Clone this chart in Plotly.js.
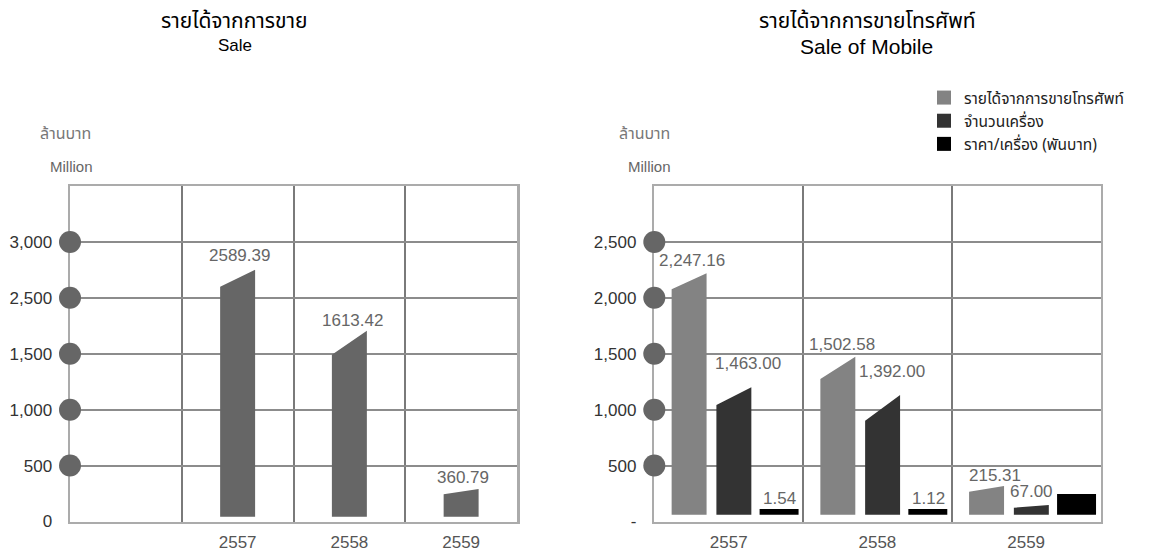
<!DOCTYPE html>
<html><head><meta charset="utf-8">
<script src="https://cdn.plot.ly/plotly-3.0.1.min.js"></script>
<style>html,body{margin:0;padding:0;background:#fff}</style>
</head><body><div id="chart" style="width:1150px;height:552px"></div>
<script>
// ---------- DATA ----------
const years = ['2557', '2558', '2559'];

// Left chart: Sale (million baht)
const saleValues = [2589.39, 1613.42, 360.79];
const saleBarPeak = [2250, 1705, 291];       // drawn height of bar (right top corner, axis units)
const saleBarShoulder = [2100, 1490, 243];   // drawn height of bar (left top corner, axis units)
const saleTickText = ['0', '500', '1,000', '1,500', '2,500', '3,000'];

// Right chart: Sale of Mobile
const mobileSeries = ['รายได้จากการขายโทรศัพท์', 'จำนวนเครื่อง', 'ราคา/เครื่อง (พันบาท)'];
const mobileRevenue = [2247.16, 1502.58, 215.31];
const mobileUnits = [1463.00, 1392.00, 67.00];
const mobilePrice = [1.54, 1.12, null];
const revenuePeak = [2219, 1474, 317];
const revenueShoulder = [2076, 1274, 266];
const unitsPeak = [1200, 1131, 148];
const unitsShoulder = [1042, 901, 123];
const pricePeak = [112, 112, 246];
const priceShoulder = [112, 112, 246];
const mobileTickText = ['-', '500', '1,000', '1,500', '2,000', '2,500'];

// ---------- STYLE / LAYOUT ----------
const tickPos = [0, 500, 1000, 1500, 2000, 2500];
const FONT = 'Liberation Sans, Arial, Helvetica, sans-serif';
const THAI = 'Noto Sans Thai, Noto Sans Thai Looped, Loma, Garuda, Sarabun, Liberation Sans, sans-serif';

function polygon(centers, width, base, shoulder, peak) {
  const xs = [], ys = [];
  centers.forEach((c, i) => {
    if (i) { xs.push(null); ys.push(null); }
    xs.push(c - width / 2, c - width / 2, c + width / 2, c + width / 2, c - width / 2);
    ys.push(base, shoulder[i], peak[i], base, base);
  });
  return { x: xs, y: ys };
}
function barTrace(poly, color, xa, ya) {
  return { type: 'scatter', mode: 'lines', x: poly.x, y: poly.y, fill: 'toself',
    fillcolor: color, line: { width: 0, color: color }, hoverinfo: 'skip',
    showlegend: false, xaxis: xa, yaxis: ya };
}

const saleCenters = years.map((_, i) => i + 1.5);
const mobileCols = years.map((_, i) => i + 0.5);
const seriesOffset = [-0.266, 0.035, 0.339];
const seriesWidth = [0.235, 0.235, 0.262];
const seriesColor = ['#838383', '#333333', '#000000'];
const mobileCenters = seriesOffset.map(o => mobileCols.map(c => c + o));

const traces = [];
traces.push(barTrace(polygon(saleCenters, 0.313, 43, saleBarShoulder, saleBarPeak), '#666666', 'x', 'y'));
const mPeaks = [revenuePeak, unitsPeak, pricePeak];
const mShoulders = [revenueShoulder, unitsShoulder, priceShoulder];
mPeaks.forEach((p, s) => {
  traces.push(barTrace(polygon(mobileCenters[s], seriesWidth[s], 60, mShoulders[s], p), seriesColor[s], 'x2', 'y2'));
});
// axis dots
[['x', 'y'], ['x2', 'y2']].forEach(([xa, ya]) => {
  const yv = tickPos.slice(1);
  traces.push({ type: 'scatter', mode: 'markers', x: yv.map(() => 0), y: yv,
    marker: { size: 22, color: '#666666' }, cliponaxis: false, hoverinfo: 'skip',
    showlegend: false, xaxis: xa, yaxis: ya });
});
// legend entries
mobileSeries.forEach((name, s) => {
  traces.push({ type: 'scatter', mode: 'markers', name: name, x: [null], y: [null],
    marker: { symbol: 'square', size: 14, color: seriesColor[s] },
    xaxis: 'x2', yaxis: 'y2', showlegend: true, hoverinfo: 'skip' });
});

const annotations = [];
// bar value labels
const saleLift = [3, -1, 0], saleXs = [2, 3, 2];
saleValues.forEach((v, i) => {
  annotations.push({ xref: 'x', yref: 'y', x: saleCenters[i], y: saleBarPeak[i],
    text: v.toFixed(2), showarrow: false, yanchor: 'bottom', yshift: saleLift[i], xshift: saleXs[i],
    font: { family: FONT, size: 17, color: '#666' } });
});
const mobileVals = [mobileRevenue, mobileUnits, mobilePrice];
const mLift = [[1, 1, -1], [12, 12, 2], [-1, -1, 0]];
const mXs = [[3, 4, 8], [14, 9, 0], [0, 1, 0]];
mobileVals.forEach((arr, s) => arr.forEach((v, i) => {
  if (v === null) return;
  annotations.push({ xref: 'x2', yref: 'y2', x: mobileCenters[s][i], y: mPeaks[s][i],
    text: v.toLocaleString('en-US', { minimumFractionDigits: 2, maximumFractionDigits: 2 }),
    showarrow: false, yanchor: 'bottom', yshift: mLift[s][i], xshift: mXs[s][i],
    font: { family: FONT, size: 17, color: '#666' } });
}));
function paperText(text, xpx, ypx, size, color, family) {
  annotations.push({ xref: 'paper', yref: 'paper', x: xpx / 1150, y: (552 - ypx) / 552,
    xanchor: 'center', yanchor: 'middle', text: text, showarrow: false,
    font: { family: family, size: size, color: color } });
}
paperText('รายได้จากการขาย', 234.5, 22, 21, '#000', THAI);
paperText('Sale', 234.5, 45, 17, '#000', FONT);
paperText('รายได้จากการขายโทรศัพท์', 867, 22, 21, '#000', THAI);
paperText('Sale of Mobile', 866, 46, 21, '#000', FONT);
paperText('ล้านบาท', 65.5, 134, 16, '#777', THAI);
paperText('Million', 71, 166, 15, '#666', FONT);
paperText('ล้านบาท', 644.5, 134, 16, '#777', THAI);
paperText('Million', 649.5, 166, 15, '#666', FONT);

function yAxis(ticktext) {
  return { domain: [30.5 / 552, 366 / 552], range: [0, 3000], tickmode: 'array', tickvals: tickPos,
    ticktext: ticktext, showgrid: true, gridcolor: '#8c8c8c', gridwidth: 2, zeroline: false,
    showline: true, mirror: true, linecolor: '#ababab', linewidth: 2.5, ticks: 'outside',
    ticklen: 12, tickcolor: 'rgba(0,0,0,0)', tickfont: { family: FONT, size: 17, color: '#333' },
    fixedrange: true, layer: 'below traces' };
}
function xAxis(domain, range, tickvals, minorvals) {
  return { domain: domain, range: range, tickmode: 'array', tickvals: tickvals, ticktext: years,
    showgrid: false, zeroline: false, showline: true, mirror: true, linecolor: '#ababab', linewidth: 2.5,
    ticks: 'outside', ticklen: 4, tickcolor: 'rgba(0,0,0,0)',
    tickfont: { family: FONT, size: 17, color: '#555' },
    minor: { tickmode: 'array', tickvals: minorvals, showgrid: true, gridcolor: '#7a7a7a', gridwidth: 2, ticks: '' },
    fixedrange: true, layer: 'below traces' };
}

const layout = {
  width: 1150, height: 552, margin: { l: 0, r: 0, t: 0, b: 0 },
  paper_bgcolor: '#fff', plot_bgcolor: '#fff', showlegend: true,
  xaxis: xAxis([70 / 1150, 517 / 1150], [0, 4], saleCenters, [1, 2, 3]),
  yaxis: yAxis(saleTickText),
  xaxis2: xAxis([654.3 / 1150, 1100.5 / 1150], [0, 3], mobileCols, [1, 2]),
  yaxis2: Object.assign(yAxis(mobileTickText), { anchor: 'x2' }),
  legend: { x: 924 / 1150, y: (552 - 81) / 552, xanchor: 'left', yanchor: 'top',
    bgcolor: 'rgba(0,0,0,0)', font: { family: THAI, size: 15.5, color: '#222' }, tracegroupgap: 0 },
  annotations: annotations
};
layout.xaxis2.anchor = 'y2';

Plotly.newPlot('chart', traces, layout, { staticPlot: true, displayModeBar: false });
</script>
</body></html>
